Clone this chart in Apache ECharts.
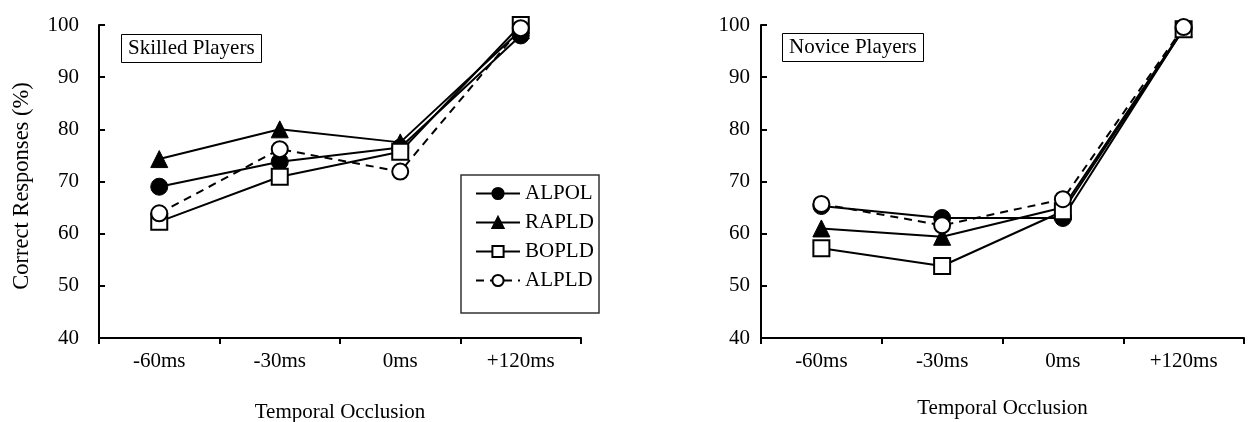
<!DOCTYPE html>
<html><head><meta charset="utf-8">
<script src="https://cdn.jsdelivr.net/npm/echarts@6/dist/echarts.min.js"></script>
<style>html,body{margin:0;padding:0;background:#fff}#c{width:1252px;height:422px}</style>
</head><body><div id="c"></div>
<script>
var categories = ['-60ms', '-30ms', '0ms', '+120ms'];
var yTicks = [40, 100, 10];
var seriesNames = ['ALPOL', 'RAPLD', 'BOPLD', 'ALPLD'];
var skilledALPOL = [69.0, 73.8, 76.5, 98.0];
var skilledRAPLD = [74.3, 80.0, 77.5, 99.0];
var skilledBOPLD = [62.3, 70.9, 75.7, 100.0];
var skilledALPLD = [63.9, 76.2, 71.9, 99.4];
var noviceALPOL = [65.3, 63.0, 63.0, 99.3];
var noviceRAPLD = [61.0, 59.4, 65.0, 99.3];
var noviceBOPLD = [57.2, 53.8, 64.3, 99.2];
var noviceALPLD = [65.7, 61.6, 66.6, 99.6];

var FONT = 'Liberation Serif';
var FS = 21;
var styles = {
  ALPOL: {symbol: 'circle', symbolSize: 17, itemStyle: {color: '#000', borderColor: '#000', borderWidth: 1}, lineStyle: {color: '#000', width: 2, type: 'solid'}},
  RAPLD: {symbol: 'triangle', symbolSize: 17, itemStyle: {color: '#000', borderColor: '#000', borderWidth: 1}, lineStyle: {color: '#000', width: 2, type: 'solid'}},
  BOPLD: {symbol: 'rect', symbolSize: 16, itemStyle: {color: '#fff', borderColor: '#000', borderWidth: 2}, lineStyle: {color: '#000', width: 2, type: 'solid'}},
  ALPLD: {symbol: 'circle', symbolSize: 16, itemStyle: {color: '#fff', borderColor: '#000', borderWidth: 2}, lineStyle: {color: '#000', width: 2, type: [8, 6]}}
};
function mk(name, data, idx) {
  var s = styles[name];
  return {type: 'line', name: name, data: data, xAxisIndex: idx, yAxisIndex: idx,
    symbol: s.symbol, symbolSize: s.symbolSize, itemStyle: s.itemStyle, lineStyle: s.lineStyle,
    showAllSymbol: true, animation: false, z: 2};
}
function xAx(idx, gap) {
  return {type: 'category', gridIndex: idx, data: categories, boundaryGap: true,
    name: 'Temporal Occlusion', nameLocation: 'middle', nameGap: gap,
    nameTextStyle: {fontFamily: FONT, fontSize: FS, color: '#000'},
    axisLine: {lineStyle: {color: '#000', width: 2}},
    axisTick: {show: true, inside: false, length: 6, lineStyle: {color: '#000', width: 2}},
    axisLabel: {fontFamily: FONT, fontSize: FS, color: '#000', margin: 13},
    splitLine: {show: false}};
}
function yAx(idx, margin) {
  return {type: 'value', gridIndex: idx, min: yTicks[0], max: yTicks[1], interval: yTicks[2],
    axisLine: {show: true, lineStyle: {color: '#000', width: 2}},
    axisTick: {show: true, inside: true, length: 6, lineStyle: {color: '#000', width: 2}},
    axisLabel: {fontFamily: FONT, fontSize: FS, color: '#000', margin: margin},
    splitLine: {show: false}};
}
var chart = echarts.init(document.getElementById('c'), null, {renderer: 'canvas'});
chart.setOption({
  backgroundColor: '#fff',
  animation: false,
  title: [
    {text: 'Skilled Players', left: 121, top: 34, borderColor: '#000', borderWidth: 1, padding: [4, 7, 4, 7],
      textStyle: {fontFamily: FONT, fontSize: FS, fontWeight: 'normal', color: '#000'}},
    {text: 'Novice Players', left: 782, top: 33, borderColor: '#000', borderWidth: 1, padding: [4, 7, 4, 7],
      textStyle: {fontFamily: FONT, fontSize: FS, fontWeight: 'normal', color: '#000'}}
  ],
  legend: {orient: 'vertical', left: 470, top: 178, itemWidth: 44, itemHeight: 14, itemGap: 8,
    data: seriesNames, textStyle: {fontFamily: FONT, fontSize: FS, color: '#000'},
    selectedMode: false},
  graphic: [
    {type: 'rect', shape: {x: 461, y: 175, width: 138, height: 138}, style: {fill: 'none', stroke: '#333', lineWidth: 1.5}, z: 10},
    {type: 'text', x: 22, y: 186, rotation: Math.PI / 2, style: {text: 'Correct Responses (%)', fontFamily: FONT, fontSize: 22.5, fill: '#000', align: 'center', verticalAlign: 'middle'}}
  ],
  grid: [
    {left: 99, top: 25, width: 482, height: 313, outerBoundsMode: 'none'},
    {left: 761, top: 25, width: 483, height: 313, outerBoundsMode: 'none'}
  ],
  xAxis: [xAx(0, 64), xAx(1, 60)],
  yAxis: [yAx(0, 20), yAx(1, 11)],
  series: [
    mk('ALPOL', skilledALPOL, 0), mk('RAPLD', skilledRAPLD, 0), mk('BOPLD', skilledBOPLD, 0), mk('ALPLD', skilledALPLD, 0),
    mk('ALPOL', noviceALPOL, 1), mk('RAPLD', noviceRAPLD, 1), mk('BOPLD', noviceBOPLD, 1), mk('ALPLD', noviceALPLD, 1)
  ]
});
</script></body></html>
